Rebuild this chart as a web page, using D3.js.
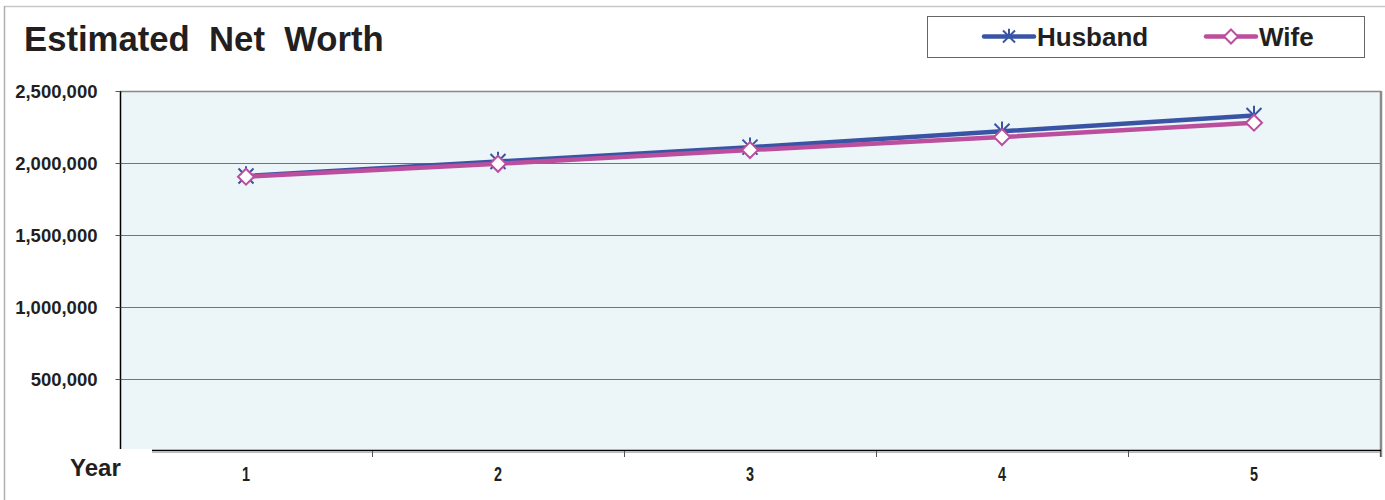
<!DOCTYPE html>
<html>
<head>
<meta charset="utf-8">
<script src="https://cdn.jsdelivr.net/npm/d3@7"></script>
<style>
  html, body { margin: 0; padding: 0; background: #fff; }
  svg { display: block; font-family: "Liberation Sans", Arial, sans-serif; }
</style>
</head>
<body>
<svg id="chart" width="1385" height="500"></svg>
<script>
// Year-by-year estimated net worth
const years = ["1", "2", "3", "4", "5"];
const husband = [1910000, 2010000, 2110000, 2220000, 2330000];
const wife = [1905000, 1995000, 2090000, 2180000, 2280000];
const yTicks = [500000, 1000000, 1500000, 2000000, 2500000];
const seriesNames = ["Husband", "Wife"];
const title = "Estimated  Net  Worth";
const xTitle = "Year";

const blue = "#3A54A5";
const pink = "#BC4E9E";

const svg = d3.select("#chart");

const plot = { left: 120, right: 1380, top: 91, bottom: 451 };

const x = d3.scaleBand().domain(years).range([plot.left, plot.right]);
const y = d3.scaleLinear().domain([0, 2500000]).range([plot.bottom, plot.top]);

// outer frame
svg.append("line").attr("x1", 4).attr("x2", 1385).attr("y1", 6.5).attr("y2", 6.5)
  .attr("stroke", "#c8c8c8").attr("stroke-width", 1.5);
svg.append("line").attr("x1", 4.5).attr("x2", 4.5).attr("y1", 6).attr("y2", 500)
  .attr("stroke", "#b0b0b0").attr("stroke-width", 1.5);

// title
svg.append("text")
  .attr("x", 24).attr("y", 51)
  .attr("font-size", 34.7).attr("font-weight", "bold")
  .attr("fill", "#231f20")
  .style("white-space", "pre")
  .text(title);

// plot background
svg.append("rect")
  .attr("x", plot.left).attr("y", plot.top)
  .attr("width", plot.right - plot.left).attr("height", plot.bottom - plot.top)
  .attr("fill", "#ECF5F8");

// gridlines
svg.append("g")
  .selectAll("line")
  .data(yTicks.filter(d => d < 2500000))
  .join("line")
  .attr("x1", plot.left).attr("x2", plot.right)
  .attr("y1", d => Math.round(y(d)) + 0.5).attr("y2", d => Math.round(y(d)) + 0.5)
  .attr("stroke", "#6f7474").attr("stroke-width", 1);

// plot borders
svg.append("line").attr("x1", plot.left).attr("x2", plot.right + 1)
  .attr("y1", plot.top + 0.5).attr("y2", plot.top + 0.5)
  .attr("stroke", "#888").attr("stroke-width", 1.5);
svg.append("line").attr("x1", plot.right + 1).attr("x2", plot.right + 1)
  .attr("y1", plot.top).attr("y2", plot.bottom + 6)
  .attr("stroke", "#8a8a8a").attr("stroke-width", 2.5);

// y axis
const yAxis = d3.axisLeft(y)
  .tickValues(yTicks)
  .tickSize(5)
  .tickPadding(18)
  .tickFormat(d3.format(","));
const gy = svg.append("g")
  .attr("transform", `translate(${plot.left + 0.5},0)`)
  .call(yAxis);
gy.select(".domain").attr("stroke", "#000").attr("stroke-width", 1.5)
  .attr("d", `M0,${plot.top}V${plot.bottom - 1}`);
gy.selectAll(".tick line").attr("stroke", "#555");
gy.selectAll(".tick text")
  .attr("font-size", 18.5).attr("font-weight", "bold")
  .attr("font-family", "'Liberation Sans', Arial, sans-serif")
  .attr("fill", "#231f20")
  .attr("dy", "0.34em");

// x axis: ticks at category boundaries, labels centered
const boundaries = years.slice(1).map(d => x(d)).concat([plot.right]);
const gx = svg.append("g");
gx.append("line")
  .attr("x1", 152).attr("x2", plot.right + 1)
  .attr("y1", plot.bottom - 0.5).attr("y2", plot.bottom - 0.5)
  .attr("stroke", "#000").attr("stroke-width", 1.5);
gx.append("line")
  .attr("x1", 152).attr("x2", plot.right + 1)
  .attr("y1", plot.bottom + 1.5).attr("y2", plot.bottom + 1.5)
  .attr("stroke", "#bbb").attr("stroke-width", 1);
gx.selectAll("line.tk")
  .data(boundaries)
  .join("line")
  .attr("class", "tk")
  .attr("x1", d => d + 0.5).attr("x2", d => d + 0.5)
  .attr("y1", plot.bottom).attr("y2", plot.bottom + 6)
  .attr("stroke", "#555");
gx.selectAll("text")
  .data(years)
  .join("text")
  .attr("x", d => x(d) + x.bandwidth() / 2)
  .attr("y", 481)
  .attr("text-anchor", "middle")
  .attr("font-size", 20).attr("font-weight", "bold")
  .attr("fill", "#231f20")
  .attr("transform", d => {
    const cx = x(d) + x.bandwidth() / 2;
    return `translate(${cx},0) scale(0.72,1) translate(${-cx},0)`;
  })
  .text(d => d);

// white patch under the axis title, then the title itself
svg.append("rect")
  .attr("x", 60).attr("y", plot.bottom - 2)
  .attr("width", 92).attr("height", 40)
  .attr("fill", "#fff");
svg.append("text")
  .attr("x", 70).attr("y", 476)
  .attr("font-size", 24).attr("font-weight", "bold")
  .attr("fill", "#231f20")
  .text(xTitle);

// lines
const line = d3.line()
  .x((d, i) => x(years[i]) + x.bandwidth() / 2)
  .y(d => y(d));

function starPath(s) {
  return `M${-s},${-s}L${s},${s}M${-s},${s}L${s},${-s}M0,${-s * 1.3}L0,0`;
}
function diamondPath(s) {
  return `M0,${-s}L${s},0L0,${s}L${-s},0Z`;
}

svg.append("path")
  .datum(husband)
  .attr("d", line)
  .attr("fill", "none")
  .attr("stroke", blue).attr("stroke-width", 4.5);

svg.append("g")
  .selectAll("path")
  .data(husband)
  .join("path")
  .attr("transform", (d, i) => `translate(${x(years[i]) + x.bandwidth() / 2},${y(d)})`)
  .attr("d", starPath(7.5))
  .attr("fill", "none")
  .attr("stroke", blue).attr("stroke-width", 2);

svg.append("path")
  .datum(wife)
  .attr("d", line)
  .attr("fill", "none")
  .attr("stroke", pink).attr("stroke-width", 4.5);

svg.append("g")
  .selectAll("path")
  .data(wife)
  .join("path")
  .attr("transform", (d, i) => `translate(${x(years[i]) + x.bandwidth() / 2},${y(d)})`)
  .attr("d", diamondPath(8))
  .attr("fill", "#fff")
  .attr("stroke", pink).attr("stroke-width", 2);

// legend
const legend = svg.append("g");
legend.append("rect")
  .attr("x", 927.5).attr("y", 16.5)
  .attr("width", 437).attr("height", 41)
  .attr("fill", "#fff").attr("stroke", "#666").attr("stroke-width", 1);

const legendItems = [
  { name: seriesNames[0], color: blue, x0: 984, marker: starPath(6), fill: "none" },
  { name: seriesNames[1], color: pink, x0: 1206, marker: diamondPath(7), fill: "#fff" }
];
legendItems.forEach(it => {
  legend.append("line")
    .attr("x1", it.x0).attr("x2", it.x0 + 50)
    .attr("y1", 36.5).attr("y2", 36.5)
    .attr("stroke", it.color).attr("stroke-width", 4.5)
    .attr("stroke-linecap", "round");
  legend.append("path")
    .attr("transform", `translate(${it.x0 + 25},36.5)`)
    .attr("d", it.marker)
    .attr("fill", it.fill)
    .attr("stroke", it.color).attr("stroke-width", 2);
  legend.append("text")
    .attr("x", it.x0 + 53).attr("y", 46)
    .attr("font-size", 26).attr("font-weight", "bold")
    .attr("fill", "#231f20")
    .text(it.name);
});
</script>
</body>
</html>
